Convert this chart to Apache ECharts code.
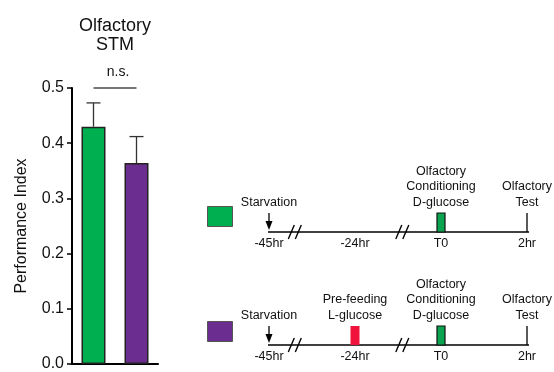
<!DOCTYPE html>
<html><head><meta charset="utf-8">
<script src="https://cdn.jsdelivr.net/npm/echarts@6/dist/echarts.min.js"></script>
<style>html,body{margin:0;padding:0;background:#fff}#c{width:554px;height:372px}</style>
</head><body><div id="c"></div>
<script>
// ---- data ----
const groups = ['D-glucose', 'L-glucose pre-fed'];
const piMean = [0.43, 0.364];
const piErr = [0.043, 0.048];
const timeLabels = ['-45hr', '-24hr', 'T0', '2hr'];
const breakPos = [0.30, 1.55];
const lineSpan = [-0.07, 3.116];
const topPos = [0, 2, 3];
const topKinds = ['arrow', 'green', 'tick'];
const topTexts = ['Starvation', 'Olfactory\nConditioning\nD-glucose', 'Olfactory\nTest'];
const botPos = [0, 1, 2, 3];
const botKinds = ['arrow', 'red', 'green', 'tick'];
const botTexts = ['Starvation', 'Pre-feeding\nL-glucose', 'Olfactory\nConditioning\nD-glucose', 'Olfactory\nTest'];

const FONT = 'Liberation Sans';
const GREEN = '#00b050', PURPLE = '#6b2d8f', RED = '#f0143c', GREEN2 = '#0aa450';

function eventRenderer(kinds, texts) {
  return function (params, api) {
    const i = params.dataIndex;
    const base = api.coord([api.value(0), 0]);
    const top = api.coord([api.value(0), 1]);
    const x = base[0], yb = base[1], yt = top[1];
    const kind = kinds[i];
    const ch = [];
    if (kind === 'arrow') {
      ch.push({type: 'line', shape: {x1: x, y1: yt, x2: x, y2: yb - 8}, style: {stroke: '#000', lineWidth: 1.3}});
      ch.push({type: 'polygon', shape: {points: [[x - 3.5, yb - 11], [x + 3.5, yb - 11], [x, yb - 2]]}, style: {fill: '#000'}});
    } else if (kind === 'green') {
      ch.push({type: 'rect', shape: {x: x - 4, y: yt, width: 8, height: yb - yt}, style: {fill: GREEN2, stroke: '#111', lineWidth: 1.2}});
    } else if (kind === 'red') {
      ch.push({type: 'rect', shape: {x: x - 4.5, y: yt, width: 9, height: yb - yt}, style: {fill: RED}});
    } else {
      ch.push({type: 'line', shape: {x1: x, y1: yt, x2: x, y2: yb}, style: {stroke: '#000', lineWidth: 1.3}});
    }
    ch.push({type: 'text', style: {text: texts[i], x: x, y: yt - 3, align: 'center', verticalAlign: 'bottom',
      fontSize: 12.5, fontFamily: FONT, lineHeight: 15.5, fill: '#111'}});
    return {type: 'group', children: ch};
  };
}
function breakRenderer(params, api) {
  const p = api.coord([api.value(0), 0]);
  const x = p[0], y = p[1];
  const mk = dx => ({type: 'line', shape: {x1: x + dx - 3, y1: y + 7, x2: x + dx + 3, y2: y - 7}, style: {stroke: '#000', lineWidth: 1.4}});
  return {type: 'group', children: [mk(-3.5), mk(3.5)]};
}

const timelineAxis = (g) => ({
  type: 'value', gridIndex: g, min: 0, max: 3, interval: 1,
  axisLine: {show: false}, axisTick: {show: false}, splitLine: {show: false},
  axisLabel: {formatter: v => timeLabels[v] || '', fontSize: 12.5, margin: 5, color: '#111', fontFamily: FONT}
});
const hiddenY = (g) => ({type: 'value', gridIndex: g, min: 0, max: 1, show: false});

const timelineSeries = (idx, pos, kinds, texts) => [
  {type: 'line', xAxisIndex: idx, yAxisIndex: idx, data: lineSpan.map(v => [v, 0]), symbol: 'none', clip: false, silent: true,
    lineStyle: {color: '#000', width: 1.5}},
  {type: 'custom', xAxisIndex: idx, yAxisIndex: idx, data: breakPos.map(v => [v]), renderItem: breakRenderer, silent: true, clip: false},
  {type: 'custom', xAxisIndex: idx, yAxisIndex: idx, data: pos.map(v => [v]), renderItem: eventRenderer(kinds, texts), silent: true, clip: false, z: 5}
];

const legendBase = (name, top) => ({
  data: [name], left: 207, top: top, padding: 0, itemWidth: 25, itemHeight: 20, icon: 'rect',
  formatter: () => '', selectedMode: false,
  itemStyle: {borderColor: '#555', borderWidth: 1}
});

const option = {
  animation: false,
  textStyle: {fontFamily: FONT},
  title: {text: 'Olfactory\nSTM', left: 110, top: 11, textAlign: 'center',
    textStyle: {fontSize: 18, fontWeight: 'normal', lineHeight: 19.5, color: '#111', fontFamily: FONT}},
  legend: [legendBase(groups[0], 206), legendBase(groups[1], 321)],
  grid: [
    {left: 72, top: 88, width: 86, height: 280},
    {left: 269, top: 213, width: 258, height: 19},
    {left: 269, top: 326, width: 258, height: 19}
  ],
  xAxis: [
    {type: 'category', gridIndex: 0, data: groups, axisLine: {lineStyle: {color: '#000', width: 2}},
      axisTick: {show: false}, axisLabel: {show: false}},
    timelineAxis(1), timelineAxis(2)
  ],
  yAxis: [
    {type: 'value', gridIndex: 0, min: 0, max: 0.5, interval: 0.1,
      name: 'Performance Index', nameLocation: 'middle', nameGap: 42,
      nameTextStyle: {fontSize: 16, color: '#111', fontFamily: FONT},
      axisLine: {show: true, lineStyle: {color: '#000', width: 2}},
      axisTick: {show: true, length: 5, lineStyle: {color: '#000', width: 1.5}},
      splitLine: {show: false},
      axisLabel: {fontSize: 16, color: '#111', margin: 8, formatter: v => v.toFixed(1), fontFamily: FONT}},
    hiddenY(1), hiddenY(2)
  ],
  series: [
    {type: 'bar', name: groups[0], stack: 'pi', barWidth: 24, data: [piMean[0], '-'],
      itemStyle: {color: GREEN, borderColor: '#222', borderWidth: 1.5}},
    {type: 'bar', name: groups[1], stack: 'pi', barWidth: 24, data: ['-', piMean[1]],
      itemStyle: {color: PURPLE, borderColor: '#222', borderWidth: 1.5}},
    {type: 'custom', xAxisIndex: 0, yAxisIndex: 0, z: 1, silent: true,
      data: piMean.map((m, i) => [i, m, m + piErr[i]]),
      renderItem: (params, api) => {
        const p1 = api.coord([api.value(0), api.value(1)]);
        const p2 = api.coord([api.value(0), api.value(2)]);
        return {type: 'group', children: [
          {type: 'line', shape: {x1: p1[0], y1: p1[1], x2: p2[0], y2: p2[1]}, style: {stroke: '#333', lineWidth: 1.3}},
          {type: 'line', shape: {x1: p2[0] - 7, y1: p2[1], x2: p2[0] + 7, y2: p2[1]}, style: {stroke: '#333', lineWidth: 1.3}}
        ]};
      }},
    {type: 'custom', xAxisIndex: 0, yAxisIndex: 0, silent: true, clip: false,
      data: [[0, 1, 0.5]],
      renderItem: (params, api) => {
        const a = api.coord([api.value(0), api.value(2)]);
        const b = api.coord([api.value(1), api.value(2)]);
        return {type: 'group', children: [
          {type: 'line', shape: {x1: a[0], y1: a[1], x2: b[0], y2: b[1]}, style: {stroke: '#777', lineWidth: 2}},
          {type: 'text', style: {text: 'n.s.', x: (a[0] + b[0]) / 2 + 3, y: a[1] - 9, align: 'center', verticalAlign: 'bottom',
            fontSize: 14, fontFamily: FONT, fill: '#111'}}
        ]};
      }},
    ...timelineSeries(1, topPos, topKinds, topTexts),
    ...timelineSeries(2, botPos, botKinds, botTexts)
  ]
};
const chart = echarts.init(document.getElementById('c'), null, {renderer: 'canvas'});
chart.setOption(option);
</script>
</body></html>
